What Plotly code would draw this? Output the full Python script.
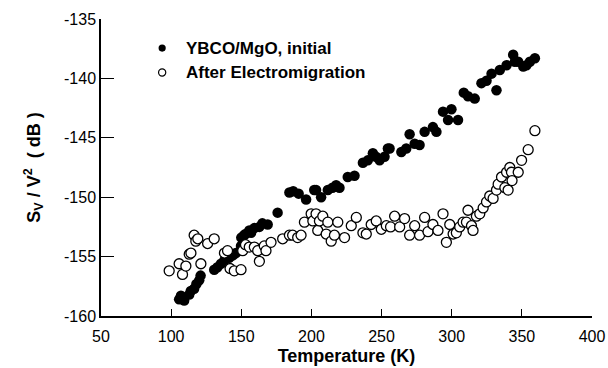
import plotly.graph_objects as go

# Filled: YBCO/MgO, initial
t_init = [105.7, 107, 109.3, 112.9, 114, 116.4, 118, 120, 121, 130.7, 133, 135.5, 138, 141.4, 144,
          146.2, 149.8, 150, 152, 153, 155.7, 157, 159.3, 162.9, 165, 168.8, 175.9, 184.3, 187,
          190.9, 196.2, 202, 203.3, 206.9, 211.7, 215, 217.6, 220, 225.9, 230.7, 236.7, 240.2,
          243.8, 246, 248.6, 252.1, 254.5, 255.7, 264.1, 267.6, 270, 273.6, 277.1, 280.7, 286.6,
          289.1, 293.8, 297.4, 299.8, 304.5, 308.6, 311.6, 316.4, 321.2, 324.8, 328.4, 331.9,
          334.3, 339.1, 343.8, 345, 347.4, 351, 353.3, 355.7, 359.3]
s_init = [-158.6, -158.3, -158.7, -158.2, -157.9, -157.7, -157.3, -157.0, -156.6, -156.1, -155.9,
          -155.6, -155.3, -155.1, -154.9, -154.7, -154.1, -153.4, -153.2, -153.1, -152.8, -153.0,
          -152.6, -152.5, -152.2, -152.3, -151.3, -149.6, -149.5, -149.7, -150.2, -149.4, -149.4,
          -150.0, -149.4, -149.2, -149.0, -149.2, -148.3, -148.2, -147.1, -146.9, -146.3, -146.6,
          -146.9, -146.6, -145.9, -145.9, -146.2, -145.9, -144.7, -145.5, -145.6, -144.5, -144.1,
          -144.5, -142.8, -143.5, -142.6, -143.5, -141.2, -141.5, -141.7, -140.4, -140.2, -139.6,
          -141.0, -139.3, -138.9, -138.0, -138.6, -138.6, -139.0, -138.9, -138.6, -138.3]

# Open: After Electromigration
t_em = [98.6, 105.7, 108.1, 110.5, 112.9, 114.1, 116.4, 117.6, 119, 121.2, 126, 130.7, 138, 140.2,
        142, 145, 149.8, 151, 153, 155.7, 159.3, 161.7, 162.9, 166.4, 167.6, 171.2, 179.5, 184.3,
        186.6, 190.2, 192.6, 195, 199.8, 201, 203.3, 204.5, 205.7, 208.1, 210.5, 211.7, 214.1,
        216.4, 218.8, 223.6, 228.4, 232, 236.7, 239.1, 242.6, 246.2, 249.8, 253.4, 256.4, 259.3,
        262.9, 266.4, 270, 273.6, 277.1, 280.7, 283.1, 286.6, 290.2, 293.8, 296.2, 298.6, 301,
        303.3, 305.7, 308.1, 310.5, 311.6, 314.1, 315.2, 317.6, 320, 322.4, 324.8, 327.1, 329.5,
        331.9, 333.1, 335.5, 337.9, 339.1, 340.2, 341.4, 342.6, 343, 347.4, 349.8, 354.5, 359.3]
s_em = [-156.2, -155.6, -156.5, -155.8, -154.8, -154.7, -153.2, -153.7, -153.5, -155.6, -153.9,
        -153.5, -154.7, -154.5, -156.0, -156.2, -156.1, -154.5, -154.0, -154.2, -154.2, -154.5,
        -155.4, -154.1, -154.5, -153.8, -153.5, -153.2, -153.2, -153.4, -153.2, -152.1, -151.4,
        -152.0, -151.4, -152.8, -152.0, -151.6, -153.1, -152.1, -153.7, -153.2, -152.1, -153.4,
        -152.4, -151.7, -153.0, -153.1, -152.3, -152.0, -152.7, -152.4, -152.5, -151.6, -152.5,
        -151.8, -153.2, -152.4, -153.2, -151.7, -152.9, -152.3, -152.8, -151.4, -153.8, -152.3,
        -153.1, -153.0, -152.5, -152.1, -152.1, -151.1, -152.4, -152.8, -151.6, -151.4, -150.9,
        -150.4, -149.9, -150.1, -149.4, -148.9, -148.3, -149.2, -147.9, -149.4, -147.5, -147.9,
        -148.6, -147.9, -146.9, -146.0, -144.4]

legend_labels = ["YBCO/MgO, initial", "After Electromigration"]
x_ticks = [50, 100, 150, 200, 250, 300, 350, 400]
y_ticks = [-160, -155, -150, -145, -140, -135]
y_ticktext = ["-160", "-155", "-150", "-145", "-140", "-135"]

FONT = "Arial, Liberation Sans, Helvetica, sans-serif"

fig = go.Figure()
fig.add_trace(go.Scatter(x=t_init, y=s_init, mode="markers", name=legend_labels[0],
                         marker=dict(size=10.5, color="black", line=dict(width=0)),
                         showlegend=False))
fig.add_trace(go.Scatter(x=t_em, y=s_em, mode="markers", name=legend_labels[1],
                         marker=dict(size=10, color="white", line=dict(color="black", width=1.3)),
                         showlegend=False))
# invisible helper trace so the label axis (x2) is drawn
fig.add_trace(go.Scatter(x=[None], y=[None], xaxis="x2", yaxis="y", mode="markers",
                         showlegend=False, hoverinfo="skip"))

# legend drawn as shapes + annotations
leg_x = 93.6
leg_y = [-137.45, -139.5]
for i, (lab, yy) in enumerate(zip(legend_labels, leg_y)):
    fig.add_shape(type="circle", xref="x", yref="y", xsizemode="pixel", ysizemode="pixel",
                  xanchor=leg_x, yanchor=yy, x0=-3.6, x1=3.6, y0=-3.6, y1=3.6,
                  fillcolor="black" if i == 0 else "white",
                  line=dict(color="black", width=1.2 if i else 0))
    fig.add_annotation(x=109.3, y=yy, xref="x", yref="y", text="<b>%s</b>" % lab,
                       showarrow=False, xanchor="left", yanchor="middle",
                       font=dict(family=FONT, size=17, color="black"))

fig.update_layout(
    width=608, height=368,
    margin=dict(l=101, r=16, t=19, b=52),
    paper_bgcolor="white", plot_bgcolor="white",
    font=dict(family=FONT, size=16, color="black"),
    xaxis=dict(range=[50, 400], tickvals=x_ticks, ticks="inside", ticklen=7, tickwidth=1.3,
               tickcolor="black", showline=True, linecolor="black", linewidth=1.5,
               showgrid=False, zeroline=False, automargin=False, showticklabels=False),
    xaxis2=dict(range=[50, 400], overlaying="x", side="bottom", anchor="y",
                tickvals=x_ticks, ticks="outside", ticklen=6, tickcolor="rgba(0,0,0,0)",
                showline=False, showgrid=False, zeroline=False, automargin=False,
                title=dict(text="<b>Temperature (K)</b>", font=dict(size=18), standoff=5)),
    yaxis=dict(range=[-160, -135], tickvals=y_ticks, ticktext=y_ticktext, ticks="inside",
               ticklen=13, tickwidth=1.3,
               tickcolor="black", showline=True, linecolor="black", linewidth=1.5,
               showgrid=False, zeroline=False, automargin=False,
               title=dict(text="<b>S<sub>V</sub> / V<sup>2</sup>  ( dB )</b>", font=dict(size=18),
                          standoff=19)),
)

fig.write_html("out.html")
